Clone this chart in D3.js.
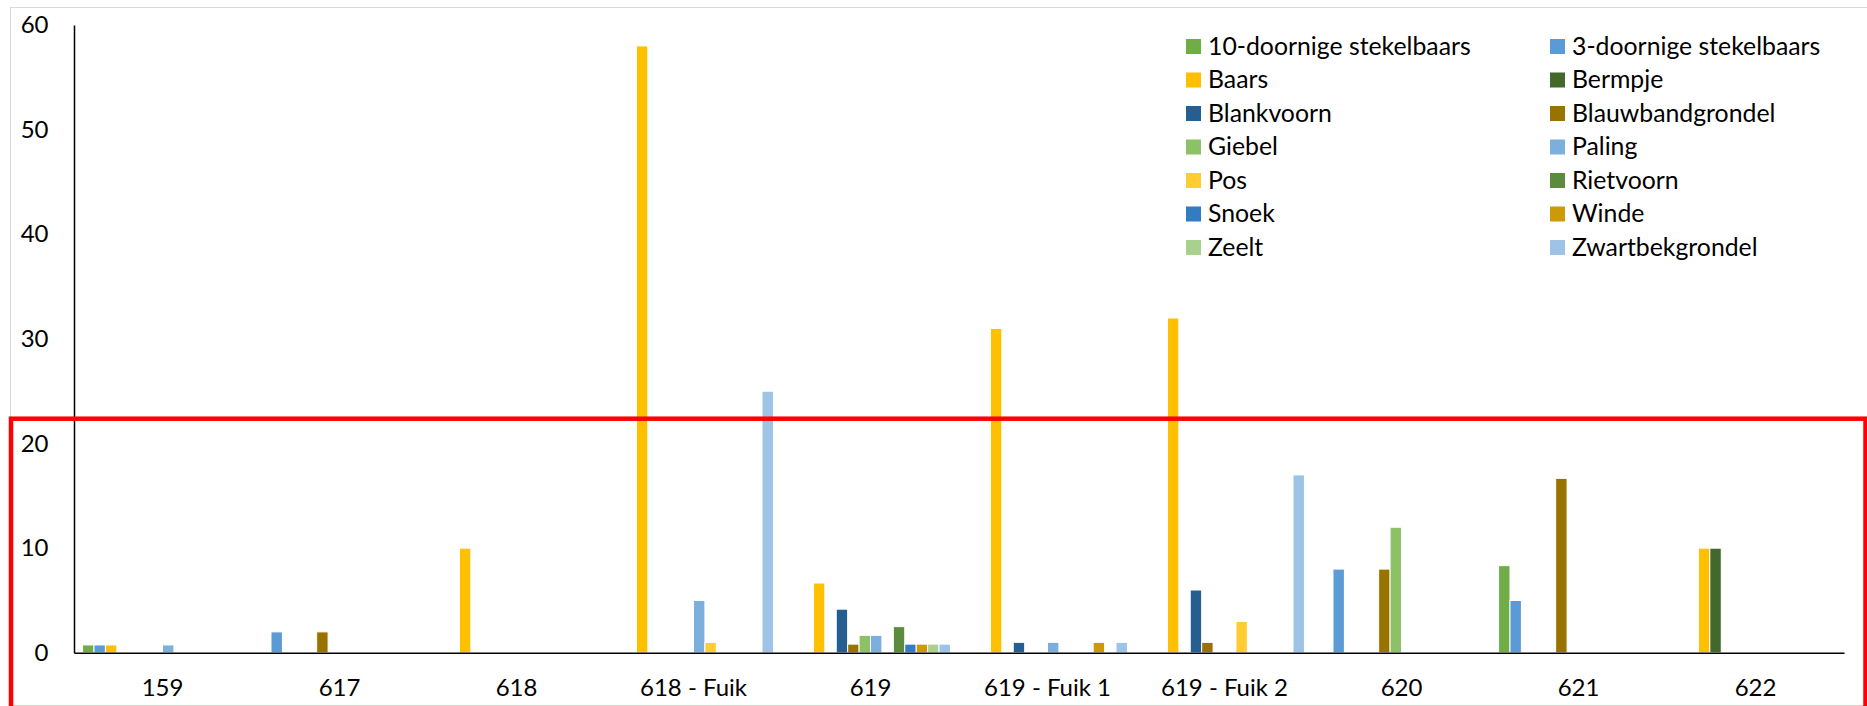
<!DOCTYPE html>
<html>
<head>
<meta charset="utf-8">
<script src="https://cdn.jsdelivr.net/npm/d3@7"></script>
<style>
  html, body { margin: 0; padding: 0; background: #fff; }
  svg { display: block; }
  text { font-family: Lato, "Open Sans", sans-serif; fill: #000; }
</style>
</head>
<body>
<svg id="chart" width="1867" height="706"></svg>
<script>
// ---- data ----
const categories = ["159", "617", "618", "618 - Fuik", "619", "619 - Fuik 1", "619 - Fuik 2", "620", "621", "622"];
const seriesNames = ["10-doornige stekelbaars", "3-doornige stekelbaars", "Baars", "Bermpje", "Blankvoorn",
  "Blauwbandgrondel", "Giebel", "Paling", "Pos", "Rietvoorn", "Snoek", "Winde", "Zeelt", "Zwartbekgrondel"];
const seriesColors = ["#70AD47", "#5B9BD5", "#FFC000", "#43682B", "#255E91", "#997300", "#8CC168",
  "#7CAFDD", "#FFCD33", "#5B8B3C", "#337CC2", "#CC9A06", "#A9D18E", "#9DC3E6"];
const tienDoornig   = [0.75, 0, 0, 0, 0, 0, 0, 0, 8.33, 0];
const drieDoornig   = [0.75, 2, 0, 0, 0, 0, 0, 8, 5, 0];
const baars         = [0.75, 0, 10, 58, 6.67, 31, 32, 0, 0, 10];
const bermpje       = [0, 0, 0, 0, 0, 0, 0, 0, 0, 10];
const blankvoorn    = [0, 0, 0, 0, 4.17, 1, 6, 0, 0, 0];
const blauwband     = [0, 2, 0, 0, 0.83, 0, 1, 8, 16.67, 0];
const giebel        = [0, 0, 0, 0, 1.67, 0, 0, 12, 0, 0];
const paling        = [0.75, 0, 0, 5, 1.67, 1, 0, 0, 0, 0];
const pos           = [0, 0, 0, 1, 0, 0, 3, 0, 0, 0];
const rietvoorn     = [0, 0, 0, 0, 2.5, 0, 0, 0, 0, 0];
const snoek         = [0, 0, 0, 0, 0.83, 0, 0, 0, 0, 0];
const winde         = [0, 0, 0, 0, 0.83, 1, 0, 0, 0, 0];
const zeelt         = [0, 0, 0, 0, 0.83, 0, 0, 0, 0, 0];
const zwartbek      = [0, 0, 0, 25, 0.83, 1, 17, 0, 0, 0];
const seriesValues = [tienDoornig, drieDoornig, baars, bermpje, blankvoorn, blauwband, giebel,
  paling, pos, rietvoorn, snoek, winde, zeelt, zwartbek];
const yTicks = [0, 10, 20, 30, 40, 50, 60];

// ---- layout ----
const svg = d3.select("#chart");
const plot = { left: 74, right: 1844, top: 25, bottom: 652.8 };
const FS = 24;
const LFS = 24.8;

// chart border (light grey)
svg.append("rect")
  .attr("x", 10.5).attr("y", 7.5).attr("width", 1900).attr("height", 800)
  .attr("fill", "none").attr("stroke", "#d9d9d9").attr("stroke-width", 1);

const x0 = d3.scaleBand().domain(categories).range([plot.left, plot.right]).padding(0);
const x1 = d3.scaleBand().domain(seriesNames).range([0, x0.bandwidth()])
  .paddingInner(0).paddingOuter(0.75);
const y = d3.scaleLinear().domain([0, 60]).range([plot.bottom, plot.top]);
const color = d3.scaleOrdinal().domain(seriesNames).range(seriesColors);

// bars
const rows = [];
seriesNames.forEach((s, si) => {
  categories.forEach((c, ci) => {
    rows.push({ series: s, cat: c, value: seriesValues[si][ci] });
  });
});
svg.append("g").selectAll("rect")
  .data(rows.filter(d => d.value > 0))
  .join("rect")
  .attr("x", d => x0(d.cat) + x1(d.series))
  .attr("y", d => y(d.value))
  .attr("width", x1.bandwidth())
  .attr("height", d => y(0) - y(d.value))
  .attr("fill", d => color(d.series))
  .attr("stroke", "#fff")
  .attr("stroke-width", 1);

// y axis
const yAxis = svg.append("g")
  .attr("transform", `translate(${plot.left},0)`)
  .call(d3.axisLeft(y).tickValues(yTicks).tickSize(0).tickPadding(25.5).tickFormat(d3.format("d")));
yAxis.select(".domain").attr("stroke", "#000").attr("stroke-width", 1.5);
yAxis.selectAll("text").style("font-size", FS + "px").style("font-family", "Lato").attr("fill", "#000");

// x axis
const xAxis = svg.append("g")
  .attr("transform", `translate(0,${y(0)})`)
  .call(d3.axisBottom(x0).tickSize(0).tickPadding(26));
xAxis.select(".domain").attr("stroke", "#000").attr("stroke-width", 1.5);
xAxis.selectAll("text").style("font-size", FS + "px").style("font-family", "Lato").attr("fill", "#000");

// legend (2 columns, row-wise)
const legendCols = [1186, 1550];
const legend = svg.append("g");
seriesNames.forEach((s, i) => {
  const col = i % 2, row = Math.floor(i / 2);
  const gx = legendCols[col], gy = 39 + row * 33.5;
  legend.append("rect").attr("x", gx).attr("y", gy).attr("width", 15).attr("height", 15)
    .attr("fill", color(s));
  legend.append("text").attr("x", gx + 22).attr("y", gy + 15.5)
    .style("font-size", LFS + "px").text(s);
});

// red highlight box
svg.append("rect")
  .attr("x", 11).attr("y", 418.7).attr("width", 1865.5 - 11).attr("height", 708 - 418.7)
  .attr("fill", "none").attr("stroke", "#ff0000").attr("stroke-width", 4.5);
</script>
</body>
</html>
